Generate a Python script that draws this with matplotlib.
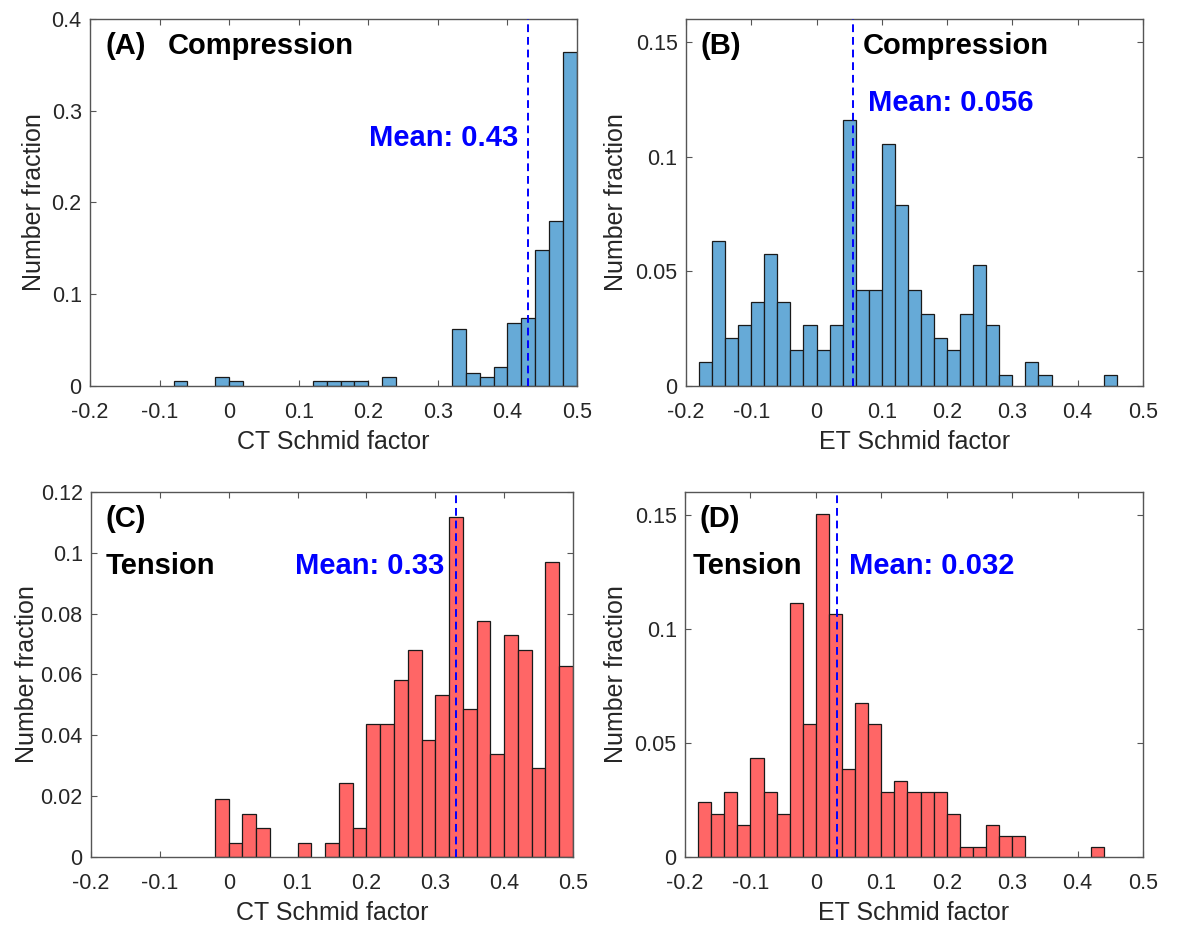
import numpy as np
import matplotlib
matplotlib.use("Agg")
import matplotlib.pyplot as plt

plt.rcParams['font.family'] = ['Liberation Sans', 'DejaVu Sans']
plt.rcParams['axes.unicode_minus'] = False

bin_width = 0.02

# histogram heights (number fraction), consecutive 0.02 bins starting at *_start
ct_comp_start = -0.08
ct_comp = [0.005, 0, 0, 0.01, 0.005, 0, 0, 0, 0, 0, 0.005, 0.005, 0.005, 0.005,
           0, 0.01, 0, 0, 0, 0, 0.0623, 0.0145, 0.01, 0.0207, 0.0685, 0.0736,
           0.1486, 0.180, 0.3645]

et_comp_start = -0.18
et_comp = [0.0104, 0.0632, 0.021, 0.0264, 0.0367, 0.0577, 0.0367, 0.0157, 0.0264,
           0.0157, 0.0264, 0.1159, 0.042, 0.042, 0.1055, 0.0791, 0.042, 0.0314,
           0.021, 0.0157, 0.0314, 0.0528, 0.0264, 0.0048, 0, 0.0104, 0.0048,
           0, 0, 0, 0, 0.0048]

ct_tens_start = -0.02
ct_tens = [0.019, 0.0046, 0.0142, 0.0095, 0, 0, 0.0046, 0, 0.0046, 0.0242, 0.0095,
           0.0438, 0.0438, 0.0582, 0.068, 0.0385, 0.0534, 0.1118, 0.0486, 0.0776,
           0.0338, 0.0729, 0.068, 0.0291, 0.097, 0.0629]

et_tens_start = -0.18
et_tens = [0.0239, 0.0189, 0.0287, 0.014, 0.0435, 0.0287, 0.0189, 0.1115, 0.0582,
           0.1504, 0.1067, 0.0384, 0.0674, 0.0582, 0.0287, 0.0335, 0.0287, 0.0287,
           0.0287, 0.0189, 0.0042, 0.0042, 0.014, 0.009, 0.009, 0, 0, 0, 0, 0,
           0.0042]

means = [0.43, 0.056, 0.33, 0.032]
panel_tags = ['(A)', '(B)', '(C)', '(D)']
load_names = ['Compression', 'Compression', 'Tension', 'Tension']
x_labels = ['CT Schmid factor', 'ET Schmid factor', 'CT Schmid factor', 'ET Schmid factor']

x_ticks = [-0.2, -0.1, 0, 0.1, 0.2, 0.3, 0.4, 0.5]
x_tick_labels = ['-0.2', '-0.1', '0', '0.1', '0.2', '0.3', '0.4', '0.5']
y_ticks = [[0, 0.1, 0.2, 0.3, 0.4], [0, 0.05, 0.1, 0.15],
           [0, 0.02, 0.04, 0.06, 0.08, 0.1, 0.12], [0, 0.05, 0.1, 0.15]]
y_tick_labels = [['0', '0.1', '0.2', '0.3', '0.4'], ['0', '0.05', '0.1', '0.15'],
                 ['0', '0.02', '0.04', '0.06', '0.08', '0.1', '0.12'],
                 ['0', '0.05', '0.1', '0.15']]
y_limits = [0.4, 0.16, 0.12, 0.16]

blue_face = '#66AAD7'
red_face = '#FF6666'
grey = '#262626'

fig = plt.figure(figsize=(11.94, 9.26), dpi=100)
boxes = [[0.0754, 0.5832, 0.4079, 0.3963],
         [0.5745, 0.5832, 0.3827, 0.3963],
         [0.0762, 0.0745, 0.4037, 0.3942],
         [0.5737, 0.0745, 0.3836, 0.3942]]
axes = [fig.add_axes(b) for b in boxes]

series = [(ct_comp_start, ct_comp, blue_face), (et_comp_start, et_comp, blue_face),
          (ct_tens_start, ct_tens, red_face), (et_tens_start, et_tens, red_face)]

for i, ax in enumerate(axes):
    start, heights, face = series[i]
    heights = np.array(heights)
    lefts = start + bin_width * np.arange(len(heights))
    keep = heights > 0
    ax.bar(lefts[keep], heights[keep], width=bin_width, align='edge',
           color=face, edgecolor='#1a1a1a', linewidth=0.9, zorder=2)
    ax.axvline(means[i], color='#0000FF', linestyle=(0, (4, 2.5)), linewidth=1.4, zorder=3)

    ax.set_xlim(-0.2, 0.5)
    ax.set_ylim(0, y_limits[i])
    ax.set_xticks(x_ticks)
    ax.set_xticklabels(x_tick_labels)
    ax.set_yticks(y_ticks[i])
    ax.set_yticklabels(y_tick_labels[i])
    ax.tick_params(direction='in', length=4, width=0.8, colors='#555555',
                   labelcolor=grey, labelsize=15.5, top=True, right=True)
    ax.tick_params(axis='x', pad=11.5)
    ax.tick_params(axis='y', pad=6)
    for s in ax.spines.values():
        s.set_color('#555555')
        s.set_linewidth(1.0)
    ax.set_xlabel(x_labels[i], fontsize=18, color=grey, labelpad=5)
    ax.set_ylabel('Number fraction', fontsize=18, color=grey)

    ax.text(0.031, 0.927, panel_tags[i], transform=ax.transAxes, fontsize=21,
            fontweight='bold', ha='left', va='center')

axes[0].yaxis.set_label_coords(-0.090, 0.5)
axes[1].yaxis.set_label_coords(-0.126, 0.5)
axes[2].yaxis.set_label_coords(-0.108, 0.5)
axes[3].yaxis.set_label_coords(-0.124, 0.5)

txt = dict(fontsize=21, fontweight='bold', va='center')
# load type labels
axes[0].text(0.160, 0.927, load_names[0], transform=axes[0].transAxes, ha='left', **txt)
axes[1].text(0.387, 0.927, load_names[1], transform=axes[1].transAxes, ha='left', **txt)
axes[2].text(0.031, 0.797, load_names[2], transform=axes[2].transAxes, ha='left', **txt)
axes[3].text(0.017, 0.797, load_names[3], transform=axes[3].transAxes, ha='left', **txt)

# mean value labels
axes[0].text(means[0] - 0.015, 0.270, 'Mean: %.2f' % means[0], ha='right', color='#0000FF', **txt)
axes[1].text(means[1] + 0.023, 0.1234, 'Mean: %.3f' % means[1], ha='left', color='#0000FF', **txt)
axes[2].text(means[2] - 0.017, 0.797 * 0.12, 'Mean: %.2f' % means[2], ha='right', color='#0000FF', **txt)
axes[3].text(means[3] + 0.019, 0.797 * 0.16, 'Mean: %.3f' % means[3], ha='left', color='#0000FF', **txt)

fig.savefig('out.png', dpi=100)
